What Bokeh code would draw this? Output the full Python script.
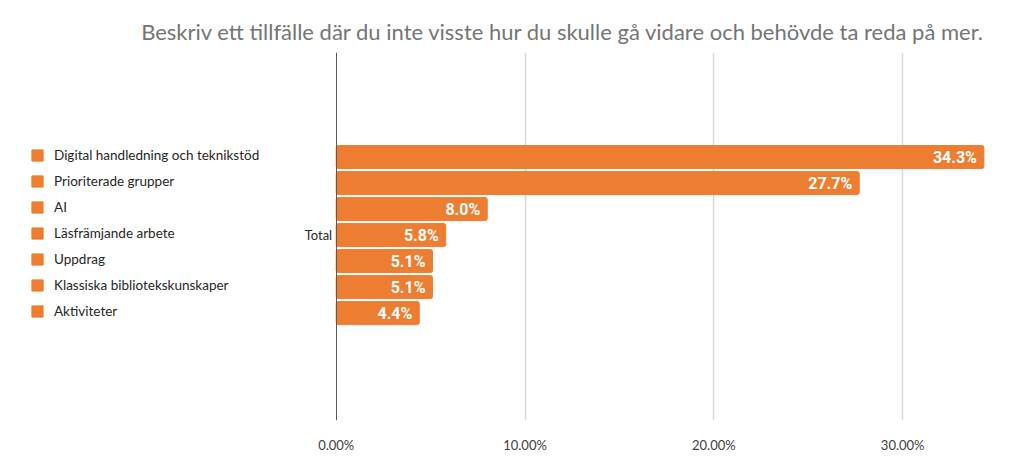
from bokeh.plotting import figure
from bokeh.models import (ColumnDataSource, Range1d, FixedTicker, Legend, LegendItem,
                          NumeralTickFormatter, LabelSet)
from bokeh.core.properties import value
from bokeh.embed import file_html
from bokeh.resources import INLINE

title = "Beskriv ett tillfälle där du inte visste hur du skulle gå vidare och behövde ta reda på mer."
series = ["Digital handledning och teknikstöd", "Prioriterade grupper", "AI",
          "Läsfrämjande arbete", "Uppdrag", "Klassiska bibliotekskunskaper", "Aktiviteter"]
values = [0.343, 0.277, 0.080, 0.058, 0.051, 0.051, 0.044]
category = "Total"
x_ticks = [0.0, 0.1, 0.2, 0.3]

ORANGE = "#ED7D31"
pos = list(range(len(series)))
src = ColumnDataSource(dict(y=pos, v=values, name=series,
                            lab=[f"{v*100:.1f}%" for v in values]))

# layout (pixels): frame spans the canvas width, zero of x at ~336 px
X0 = 0           # left edge of frame
PX_PER_UNIT = 1888.3
x_start = -(335.7 - X0) / PX_PER_UNIT
x_end = x_start + (1024 - X0 - 20) / PX_PER_UNIT

p = figure(width=1024, height=468, output_backend="svg", toolbar_location=None,
           x_range=Range1d(x_start, x_end), y_range=Range1d(10.13, -4.02),
           min_border_left=0, min_border_right=20, min_border_top=52, min_border_bottom=48)
p.outline_line_color = None
p.background_fill_color = "white"
p.border_fill_color = "white"

r = p.hbar(y="y", right="v", left=0, height=0.885, source=src, fill_color=ORANGE,
           line_color=ORANGE, border_radius=2)

labels = LabelSet(x="v", y="y", text="lab", source=src, x_offset=-7,
                  text_align="right", text_baseline="middle", text_color="white",
                  text_font=value("Roboto"), text_font_style="bold", text_font_size="16px")
p.add_layout(labels)

# x axis
p.xaxis.ticker = FixedTicker(ticks=x_ticks)
p.xaxis.formatter = NumeralTickFormatter(format="0.00%")
p.xaxis.axis_line_color = None
p.xaxis.major_tick_line_color = None
p.xaxis.minor_tick_line_color = None
p.xaxis.major_label_text_font = "Lato"
p.xaxis.major_label_text_font_size = "13px"
p.xaxis.major_label_text_color = "#404040"
p.xaxis.major_label_standoff = 10
p.xgrid.ticker = FixedTicker(ticks=x_ticks[1:])
p.xgrid.grid_line_color = "#d9d9d9"
p.xgrid.grid_line_width = 1.5

# y axis (category axis at x = 0)
p.yaxis.fixed_location = 0
p.yaxis.ticker = FixedTicker(ticks=[3])
p.yaxis.major_label_overrides = {3: category}
p.yaxis.axis_line_color = "#595959"
p.yaxis.axis_line_width = 1
p.yaxis.major_tick_line_color = None
p.yaxis.minor_tick_line_color = None
p.yaxis.major_tick_out = 0
p.yaxis.major_tick_in = 0
p.yaxis.minor_tick_out = 0
p.yaxis.major_label_text_font = "Lato"
p.yaxis.major_label_text_font_size = "13px"
p.yaxis.major_label_text_color = "#262626"
p.yaxis.major_label_standoff = 4
p.ygrid.grid_line_color = None

# legend (inside the frame, at the far left)
items = [LegendItem(label=s, renderers=[r], index=i) for i, s in enumerate(series)]
legend = Legend(items=items, location=(30 - X0, 99), glyph_width=14, glyph_height=14,
                label_height=20, spacing=6, label_standoff=10, padding=0, margin=0,
                border_line_color=None, background_fill_alpha=0,
                label_text_font="Lato", label_text_font_size="13.5px",
                label_text_color="#262626")
p.add_layout(legend, "center")

# title
p.title.text = title
p.title.align = "right"
p.title.offset = 19
p.title.standoff = 16
p.title.text_font = "Lato"
p.title.text_font_size = "22px"
p.title.text_font_style = "normal"
p.title.text_color = "#757575"

open("out.html", "w").write(file_html(p, INLINE))
